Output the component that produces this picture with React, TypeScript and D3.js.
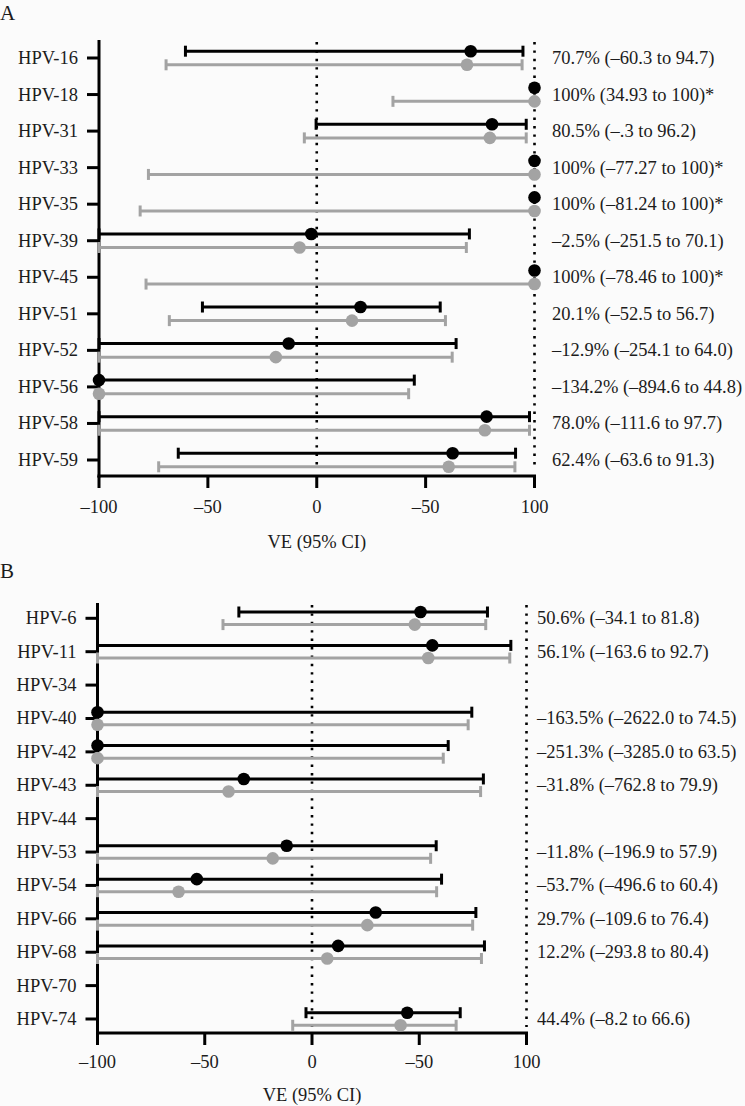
import React from "react";
import * as d3 from "d3";

// ---------- Panel A data ----------
const typesA = ["HPV-16", "HPV-18", "HPV-31", "HPV-33", "HPV-35", "HPV-39", "HPV-45", "HPV-51", "HPV-52", "HPV-56", "HPV-58", "HPV-59"];
const blackVeA = [70.7, 100, 80.5, 100, 100, -2.5, 100, 20.1, -12.9, -134.2, 78.0, 62.4];
const blackLoA = [-60.3, null, -0.3, null, null, -251.5, null, -52.5, -254.1, -894.6, -111.6, -63.6];
const blackHiA = [94.7, null, 96.2, null, null, 70.1, null, 56.7, 64.0, 44.8, 97.7, 91.3];
const grayVeA = [69.0, 100, 79.5, 100, 100, -7.9, 100, 16.2, -18.8, -100, 77.2, 60.6];
const grayLoA = [-69.2, 35.0, -5.7, -77.3, -81.1, -100, -78.4, -67.7, -100, -100, -100, -72.6];
const grayHiA = [94.3, 100, 96.2, 100, 100, 68.7, 100, 59.1, 62.2, 42.2, 97.7, 91.0];
const labelsA = [
  "70.7% (–60.3 to 94.7)",
  "100% (34.93 to 100)*",
  "80.5% (–.3 to 96.2)",
  "100% (–77.27 to 100)*",
  "100% (–81.24 to 100)*",
  "–2.5% (–251.5 to 70.1)",
  "100% (–78.46 to 100)*",
  "20.1% (–52.5 to 56.7)",
  "–12.9% (–254.1 to 64.0)",
  "–134.2% (–894.6 to 44.8)",
  "78.0% (–111.6 to 97.7)",
  "62.4% (–63.6 to 91.3)",
];

// ---------- Panel B data ----------
const typesB = ["HPV-6", "HPV-11", "HPV-34", "HPV-40", "HPV-42", "HPV-43", "HPV-44", "HPV-53", "HPV-54", "HPV-66", "HPV-68", "HPV-70", "HPV-74"];
const blackVeB = [50.6, 56.1, null, -163.5, -251.3, -31.8, null, -11.8, -53.7, 29.7, 12.2, null, 44.4];
const blackLoB = [-34.1, -163.6, null, -2622.0, -3285.0, -762.8, null, -196.9, -496.6, -109.6, -293.8, null, -2.8];
const blackHiB = [81.8, 92.7, null, 74.5, 63.5, 79.9, null, 57.9, 60.4, 76.4, 80.4, null, 69.1];
const grayVeB = [47.9, 54.2, null, -100, -100, -38.9, null, -18.3, -62.2, 25.8, 7.1, null, 41.3];
const grayLoB = [-41.5, -100, null, -100, -100, -100, null, -100, -100, -100, -100, null, -9.0];
const grayHiB = [81.0, 92.2, null, 72.8, 61.2, 78.6, null, 55.3, 58.1, 74.9, 79.0, null, 67.2];
const labelsB = [
  "50.6% (–34.1 to 81.8)",
  "56.1% (–163.6 to 92.7)",
  "",
  "–163.5% (–2622.0 to 74.5)",
  "–251.3% (–3285.0 to 63.5)",
  "–31.8% (–762.8 to 79.9)",
  "",
  "–11.8% (–196.9 to 57.9)",
  "–53.7% (–496.6 to 60.4)",
  "29.7% (–109.6 to 76.4)",
  "12.2% (–293.8 to 80.4)",
  "",
  "44.4% (–8.2 to 66.6)",
];

const tickValues = [-100, -50, 0, 50, 100];
const tickLabels = ["–100", "–50", "0", "–50", "100"];
const axisTitle = "VE (95% CI)";

const FONT = "Liberation Serif, Times New Roman, DejaVu Serif, serif";
const BLACK = "#000";
const GRAY = "#a3a3a3";
const TEXT = "#1c1c1c";

type PanelProps = {
  letter: string;
  letterY: number;
  types: string[];
  bVe: (number | null)[];
  bLo: (number | null)[];
  bHi: (number | null)[];
  gVe: (number | null)[];
  gLo: (number | null)[];
  gHi: (number | null)[];
  labels: string[];
  x0: number;
  x1: number;
  rowFirst: number;
  rowLast: number;
  axisTop: number;
  axisBottom: number;
  dotTop: number;
  dotBottom: number;
  offset: number;
  labelX: number;
  tickLabelY: number;
  titleY: number;
};

function Series({ x, y, types, ve, lo, hi, color, dy }: any) {
  return (
    <g>
      {types.map((t: string, i: number) => {
        const yy = (y(t) as number) + dy;
        const v = ve[i];
        const l = lo[i];
        const h = hi[i];
        return (
          <g key={t}>
            {l != null && h != null && (
              <g>
                <line x1={x(l)} x2={x(h)} y1={yy} y2={yy} stroke={color} strokeWidth={3} />
                <line x1={x(l)} x2={x(l)} y1={yy - 5.5} y2={yy + 5.5} stroke={color} strokeWidth={3} />
                <line x1={x(h)} x2={x(h)} y1={yy - 5.5} y2={yy + 5.5} stroke={color} strokeWidth={3} />
              </g>
            )}
            {v != null && <circle cx={x(v)} cy={yy} r={6.3} fill={color} />}
          </g>
        );
      })}
    </g>
  );
}

function Panel(p: PanelProps) {
  const x = d3.scaleLinear().domain([-100, 100]).range([p.x0, p.x1]).clamp(true);
  const y = d3.scalePoint<string>().domain(p.types).range([p.rowFirst, p.rowLast]);
  const ts = { fontFamily: FONT };
  return (
    <g>
      <text x={0} y={p.letterY} fontSize={21} fill={TEXT} style={ts}>{p.letter}</text>
      {/* dotted reference lines */}
      {[0, 100].map((v) => (
        <line key={v} x1={x(v)} x2={x(v)} y1={p.dotTop} y2={p.dotBottom} stroke={BLACK} strokeWidth={2.6} strokeDasharray="2.4,6" />
      ))}
      {/* axes */}
      <line x1={p.x0} x2={p.x0} y1={p.axisTop} y2={p.axisBottom + 1.5} stroke={BLACK} strokeWidth={3} />
      <line x1={p.x0 - 1.5} x2={p.x1 + 1.5} y1={p.axisBottom} y2={p.axisBottom} stroke={BLACK} strokeWidth={3} />
      {p.types.map((t) => (
        <g key={t}>
          <line x1={p.x0 - 12} x2={p.x0} y1={y(t)} y2={y(t)} stroke={BLACK} strokeWidth={3} />
          <text x={p.x0 - 21} y={(y(t) as number) + 6} textAnchor="end" fontSize={18.5} fill={TEXT} style={ts}>{t}</text>
        </g>
      ))}
      {tickValues.map((v, i) => (
        <g key={v}>
          <line x1={x(v)} x2={x(v)} y1={p.axisBottom} y2={p.axisBottom + 12} stroke={BLACK} strokeWidth={3} />
          <text x={x(v)} y={p.tickLabelY} textAnchor="middle" fontSize={18.5} fill={TEXT} style={ts}>{tickLabels[i]}</text>
        </g>
      ))}
      <text x={x(0)} y={p.titleY} textAnchor="middle" fontSize={18.5} fill={TEXT} style={ts}>{axisTitle}</text>
      {/* series */}
      <Series x={x} y={y} types={p.types} ve={p.gVe} lo={p.gLo} hi={p.gHi} color={GRAY} dy={p.offset} />
      <Series x={x} y={y} types={p.types} ve={p.bVe} lo={p.bLo} hi={p.bHi} color={BLACK} dy={-p.offset} />
      {/* right labels */}
      {p.types.map((t, i) => (
        <text key={t} x={p.labelX} y={(y(t) as number) + 6} fontSize={18.5} fill={TEXT} style={ts}>{p.labels[i]}</text>
      ))}
    </g>
  );
}

export default function App() {
  return (
    <svg width={745} height={1106} style={{ position: "absolute", left: 0, top: 0, background: "#fbfbfb" }}>
      <rect width={745} height={1106} fill="#fbfbfb" />
      <Panel
        letter="A" letterY={20}
        types={typesA} bVe={blackVeA} bLo={blackLoA} bHi={blackHiA}
        gVe={grayVeA} gLo={grayLoA} gHi={grayHiA} labels={labelsA}
        x0={99} x1={534.5} rowFirst={58} rowLast={460}
        axisTop={40} axisBottom={476} dotTop={42} dotBottom={468}
        offset={6.8} labelX={552} tickLabelY={513} titleY={548}
      />
      <Panel
        letter="B" letterY={578}
        types={typesB} bVe={blackVeB} bLo={blackLoB} bHi={blackHiB}
        gVe={grayVeB} gLo={grayLoB} gHi={grayHiB} labels={labelsB}
        x0={97.5} x1={526.5} rowFirst={618.3} rowLast={1019}
        axisTop={603} axisBottom={1033} dotTop={605} dotBottom={1027}
        offset={6.3} labelX={537} tickLabelY={1068} titleY={1101}
      />
    </svg>
  );
}
